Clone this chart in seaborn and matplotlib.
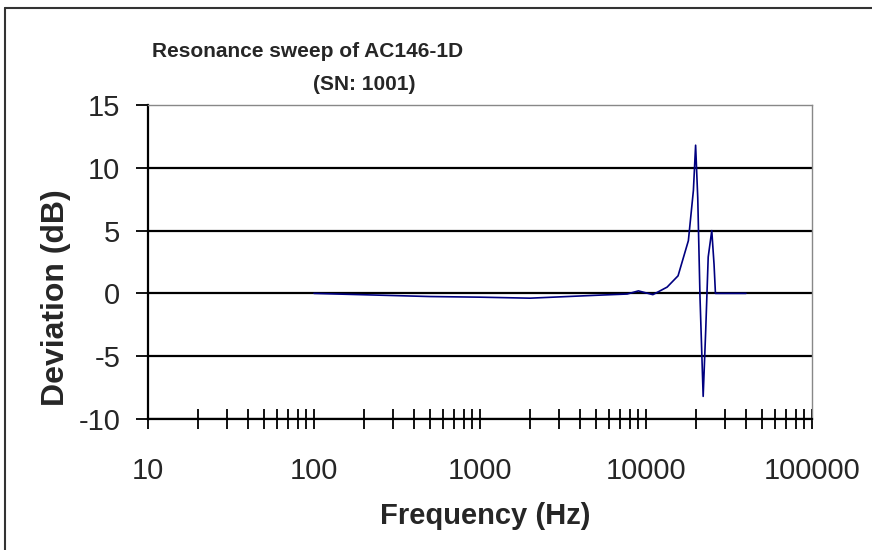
import matplotlib
matplotlib.use("Agg")
import matplotlib.pyplot as plt
import seaborn as sns
from matplotlib.lines import Line2D
from matplotlib.ticker import FixedLocator, LogLocator, NullFormatter

# data
freq_hz = [100, 500, 1000, 2000, 5000, 7700, 9000, 11000, 13400, 15600,
           18000, 19300, 19900, 20500, 21150, 22100, 22900, 23700, 24900,
           25700, 26200, 40000]
deviation_db = [0.0, -0.25, -0.3, -0.38, -0.15, -0.05, 0.2, -0.1, 0.5, 1.4,
                4.2, 8.2, 11.8, 7.6, -0.3, -8.2, -2.9, 2.9, 5.0,
                2.3, 0.0, 0.0]
x_ticks = [10, 100, 1000, 10000, 100000]
y_ticks = [-10, -5, 0, 5, 10, 15]

sns.set_style("white")
plt.rcParams['font.family'] = ['Liberation Sans', 'DejaVu Sans']

W, H = 872, 550
fig = plt.figure(figsize=(W / 100, H / 100), dpi=100)
ax = fig.add_axes([148 / W, 1 - 419 / H, (812 - 148) / W, (419 - 105) / H])

sns.lineplot(x=freq_hz, y=deviation_db, ax=ax, color="#000080",
             linewidth=1.2, sort=False, zorder=3)

ax.set_xscale('log')
ax.set_xlim(10, 100000)
ax.set_ylim(-10, 15)
ax.xaxis.set_major_locator(FixedLocator(x_ticks))
ax.set_xticklabels([str(t) for t in x_ticks])
ax.xaxis.set_minor_locator(LogLocator(base=10, subs=range(2, 10)))
ax.xaxis.set_minor_formatter(NullFormatter())
ax.set_yticks(y_ticks)
ax.set_yticklabels([str(t) for t in y_ticks])

ax.tick_params(axis='x', which='both', direction='inout', length=15,
               width=1.3, color='black', labelsize=21, pad=20)
ax.tick_params(axis='y', direction='out', length=9, width=1.3,
               color='black', labelsize=21, pad=11)
ax.tick_params(left=True, bottom=True)
ax.xaxis.set_tick_params(which='minor', bottom=True)

ax.grid(axis='y', color='black', linewidth=1.6)
ax.set_axisbelow(True)
ax.get_ygridlines()[-1].set_visible(False)

for side in ['top', 'right']:
    ax.spines[side].set_color('#888888')
    ax.spines[side].set_linewidth(1.0)
for side in ['left', 'bottom']:
    ax.spines[side].set_color('black')
    ax.spines[side].set_linewidth(1.6)

ax.set_xlabel('')
ax.set_ylabel('')
fig.text(56 / W, 1 - 298 / H, 'Deviation (dB)', rotation=90, ha='center',
         va='center', fontsize=23, fontweight='bold')
fig.text(485 / W, 1 - 516 / H, 'Frequency (Hz)', ha='center', va='center',
         fontsize=21, fontweight='bold')
fig.text(308 / W, 1 - 52 / H, 'Resonance sweep of AC146-1D', ha='center',
         va='center', fontsize=15, fontweight='bold')
fig.text(364 / W, 1 - 84 / H, '(SN: 1001)', ha='center', va='center',
         fontsize=15, fontweight='bold')

# outer frame of the chart (only top and left edges visible)
fig.add_artist(Line2D([4.5 / W, 4.5 / W], [0, 1 - 7.5 / H], color='#333333',
                      linewidth=1.5, transform=fig.transFigure))
fig.add_artist(Line2D([4.5 / W, 1], [1 - 7.5 / H, 1 - 7.5 / H],
                      color='#333333', linewidth=1.5,
                      transform=fig.transFigure))

fig.savefig('out.png', dpi=100)
